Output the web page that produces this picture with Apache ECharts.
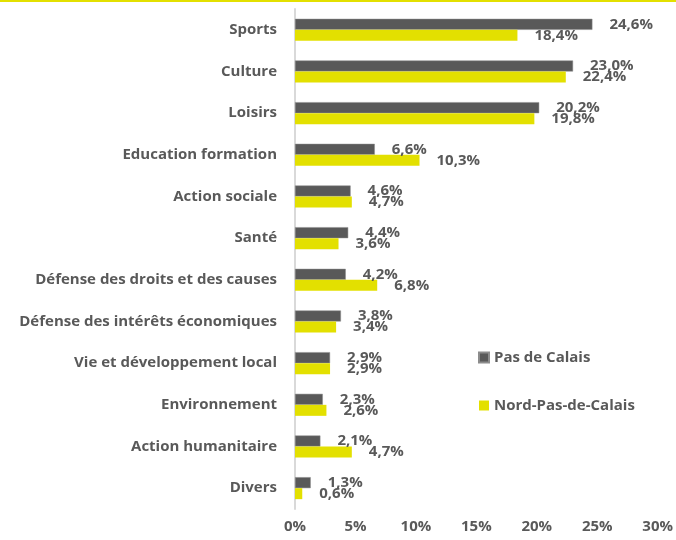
<!DOCTYPE html>
<html>
<head>
<meta charset="utf-8">
<script src="https://cdn.jsdelivr.net/npm/echarts@6/dist/echarts.min.js"></script>
<style>
  html, body { margin: 0; padding: 0; background: #fff; }
  #chart { width: 676px; height: 538px; border-top: 2px solid #e3e000; }
</style>
</head>
<body>
<div id="chart"></div>
<script>
(function() {
  'use strict';

  var categories = ['Sports', 'Culture', 'Loisirs', 'Education formation', 'Action sociale', 'Santé',
    'Défense des droits et des causes', 'Défense des intérêts économiques', 'Vie et développement local',
    'Environnement', 'Action humanitaire', 'Divers'];
  var pasDeCalais = [24.6, 23.0, 20.2, 6.6, 4.6, 4.4, 4.2, 3.8, 2.9, 2.3, 2.1, 1.3];
  var nordPasDeCalais = [18.4, 22.4, 19.8, 10.3, 4.7, 3.6, 6.8, 3.4, 2.9, 2.6, 4.7, 0.6];
  var xTicks = { min: 0, max: 30, interval: 5 };

  var colorDark = '#595959';
  var colorYellow = '#e3e000';
  var colorText = '#595959';
  var fontFamily = '"Open Sans", "Noto Sans", sans-serif';

  function pct(v) { return v.toFixed(1).replace('.', ',') + '%'; }

  var labelStyle = {
    show: true,
    position: 'right',
    distance: 17,
    color: colorText,
    fontWeight: 'bold',
    fontSize: 15,
    fontFamily: fontFamily,
    formatter: function(p) { return pct(p.value); }
  };

  var chart = echarts.init(document.getElementById('chart'));
  chart.setOption({
    animation: false,
    textStyle: { fontFamily: fontFamily },
    legend: {
      orient: 'vertical',
      left: 473,
      top: 343,
      itemGap: 33,
      itemWidth: 10,
      itemHeight: 10,
      icon: 'rect',
      textStyle: { color: colorText, fontWeight: 'bold', fontSize: 15, fontFamily: fontFamily },
      data: ['Pas de Calais', 'Nord-Pas-de-Calais']
    },
    grid: { left: 295, right: 18, top: 7, bottom: 31 },
    xAxis: {
      type: 'value',
      min: xTicks.min,
      max: xTicks.max,
      interval: xTicks.interval,
      axisLine: { show: false },
      axisTick: { show: false },
      splitLine: { show: false },
      axisLabel: { color: colorText, fontWeight: 'bold', fontSize: 15, margin: 10, formatter: '{value}%' }
    },
    yAxis: {
      type: 'category',
      inverse: true,
      data: categories,
      axisLine: { lineStyle: { color: '#d9d9d9', width: 2 } },
      axisTick: { show: false },
      axisLabel: { color: colorText, fontWeight: 'bold', fontSize: 15, margin: 18 }
    },
    series: [
      {
        name: 'Pas de Calais',
        type: 'bar',
        data: pasDeCalais,
        barWidth: 11,
        barGap: '0%',
        itemStyle: { color: colorDark, borderColor: '#8c8c8c', borderWidth: 0.5 },
        label: labelStyle
      },
      {
        name: 'Nord-Pas-de-Calais',
        type: 'bar',
        data: nordPasDeCalais,
        barWidth: 11,
        barGap: '0%',
        itemStyle: { color: colorYellow },
        label: labelStyle
      }
    ]
  });
})();
</script>
</body>
</html>
